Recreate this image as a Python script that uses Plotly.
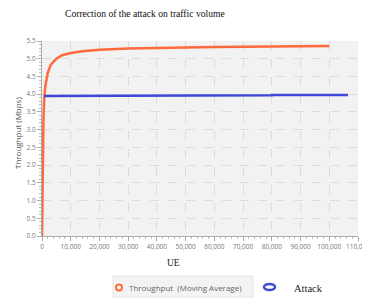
import plotly.graph_objects as go

# Throughput (Moving Average)
thr_x = [0, 100, 250, 500, 800, 1200, 2000, 3000, 3800, 5000, 7000, 10000, 14000,
         20000, 30000, 40000, 50000, 60000, 70000, 80000, 90000, 100000]
thr_y = [0.0, 1.2, 2.4, 3.3, 3.9, 4.25, 4.6, 4.82, 4.9, 5.0, 5.1, 5.16, 5.21,
         5.25, 5.29, 5.31, 5.32, 5.33, 5.34, 5.34, 5.35, 5.36]

# Attack
att_x = [700, 27000, 27000, 80000, 80000, 106500]
att_y = [3.95, 3.95, 3.97, 3.97, 3.98, 3.98]

x_ticks = list(range(0, 110001, 10000))
y_ticks = [i * 0.5 for i in range(12)]

title_text = "Correction of the attack on traffic volume"
x_title = "UE"
y_title = "Throughput (Mbps)"
legend_names = ["Throughput  (Moving Average)", "Attack"]

orange = "#FF6A3D"
blue = "#3F48D6"

# the page body adds an 8px offset, so the figure is 8px smaller and
# all reference pixel positions are shifted by OFF
OFF = 8
W, H = 370 - OFF, 298 - OFF
L, T = 42 - OFF, 41 - OFF
R = W - (358 - OFF)
B = H - (236 - OFF)
PW, PH = W - L - R, H - T - B


def px(x):
    return (x - OFF - L) / PW


def py(y):
    return (H - B - (y - OFF)) / PH


fig = go.Figure()
fig.add_trace(go.Scatter(x=thr_x, y=thr_y, mode="lines", line=dict(color=orange, width=2.5),
                         name=legend_names[0], showlegend=False, hoverinfo="skip"))
fig.add_trace(go.Scatter(x=att_x, y=att_y, mode="lines", line=dict(color=blue, width=2.5),
                         name=legend_names[1], showlegend=False, hoverinfo="skip"))

fig.update_layout(
    width=W, height=H,
    margin=dict(l=L, r=R, t=T, b=B, autoexpand=False),
    paper_bgcolor="white",
    plot_bgcolor="#F2F2F2",
    showlegend=False,
    font=dict(family="Open Sans, sans-serif", size=7, color="#777"),
)

fig.update_xaxes(
    range=[0, 110000], tickvals=x_ticks, ticktext=[f"{v:,}" for v in x_ticks],
    showgrid=True, gridcolor="#DCDCDC", griddash="dash", gridwidth=1,
    zeroline=False, showline=True, linecolor="#AAAAAA", linewidth=1,
    ticks="outside", ticklen=4, tickcolor="#AAAAAA",
    minor=dict(dtick=2000, ticks="outside", ticklen=2, tickcolor="#BBBBBB", showgrid=False),
    tickfont=dict(size=6.5, color="#777"), automargin=False, ticklabeloverflow="allow",
)
fig.update_yaxes(
    range=[0, 5.5], tickvals=y_ticks, ticktext=[f"{v:.1f}" for v in y_ticks],
    showgrid=True, gridcolor="#DCDCDC", griddash="dash", gridwidth=1,
    zeroline=False, showline=True, linecolor="#AAAAAA", linewidth=1,
    ticks="outside", ticklen=4, tickcolor="#AAAAAA",
    minor=dict(dtick=0.1, ticks="outside", ticklen=2, tickcolor="#BBBBBB", showgrid=False),
    tickfont=dict(size=6.5, color="#777"), automargin=False,
)

# title
fig.add_annotation(text=title_text, xref="paper", yref="paper", x=px(63), y=py(13),
                   showarrow=False, xanchor="left", yanchor="middle",
                   font=dict(family="Liberation Serif, serif", size=9.6, color="#111"))
# axis titles
fig.add_annotation(text=x_title, xref="paper", yref="paper", x=px(173), y=py(263),
                   showarrow=False, xanchor="center", yanchor="middle",
                   font=dict(family="Liberation Serif, serif", size=9.5, color="#222"))
fig.add_annotation(text=y_title, xref="paper", yref="paper", x=px(17), y=py(133),
                   showarrow=False, xanchor="center", yanchor="middle", textangle=-90,
                   font=dict(family="Open Sans, sans-serif", size=8, color="#555"))

# legend: box behind first item
fig.add_shape(type="rect", xref="paper", yref="paper",
              x0=px(113), x1=px(253), y0=py(297), y1=py(276),
              line=dict(color="#E4E4E4", width=1), fillcolor="#F3F3F3", layer="below")
fig.add_shape(type="circle", xref="paper", yref="paper",
              x0=px(116), x1=px(122), y0=py(290.5), y1=py(284.5),
              line=dict(color=orange, width=2), fillcolor="white")
fig.add_annotation(text=legend_names[0], xref="paper", yref="paper", x=px(127), y=py(287),
                   showarrow=False, xanchor="left", yanchor="middle",
                   font=dict(family="Open Sans, sans-serif", size=8, color="#666"))
fig.add_shape(type="circle", xref="paper", yref="paper",
              x0=px(264), x1=px(275), y0=py(290), y1=py(284),
              line=dict(color=blue, width=2.5), fillcolor="white")
fig.add_annotation(text=legend_names[1], xref="paper", yref="paper", x=px(292), y=py(288),
                   showarrow=False, xanchor="left", yanchor="middle",
                   font=dict(family="Liberation Serif, serif", size=10.5, color="#222"))

fig.write_html("out.html")
